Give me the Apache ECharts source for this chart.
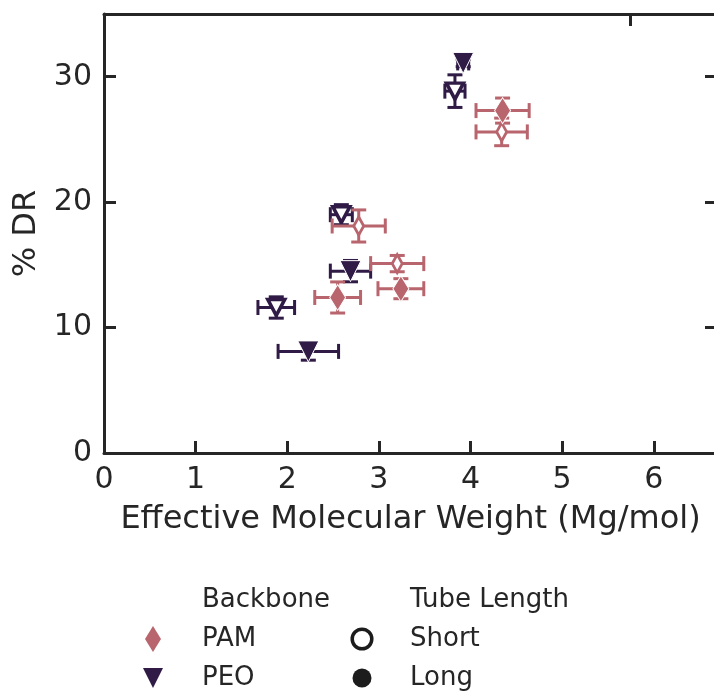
<!DOCTYPE html>
<html>
<head>
<meta charset="utf-8">
<style>
html,body{margin:0;padding:0;background:#fff;}
#chart{width:714px;height:692px;}
</style>
<script src="https://cdn.jsdelivr.net/npm/echarts@6/dist/echarts.min.js"></script>
</head>
<body>
<div id="chart"></div>
<script>
// ---- data ----
const PAM_SHORT_X    = [4.34, 2.78, 3.20];
const PAM_SHORT_Y    = [25.6, 18.1, 15.1];
const PAM_SHORT_XERR = [0.28, 0.29, 0.29];
const PAM_SHORT_YERR = [1.1, 1.28, 0.65];

const PAM_LONG_X    = [4.35, 2.55, 3.24];
const PAM_LONG_Y    = [27.3, 12.4, 13.1];
const PAM_LONG_XERR = [0.29, 0.25, 0.25];
const PAM_LONG_YERR = [1.0, 1.24, 0.8];

const PEO_SHORT_X    = [3.83, 2.59, 1.88];
const PEO_SHORT_Y    = [28.85, 19.0, 11.6];
const PEO_SHORT_XERR = [0.11, 0.12, 0.20];
const PEO_SHORT_YERR = [1.3, 0.8, 0.85];

const PEO_LONG_X    = [3.92, 2.69, 2.23];
const PEO_LONG_Y    = [31.1, 14.5, 8.1];
const PEO_LONG_XERR = [0.06, 0.22, 0.33];
const PEO_LONG_YERR = [0.3, 0.85, 0.7];

const X_TICKS = [0, 1, 2, 3, 4, 5, 6];
const Y_TICKS = [0, 10, 20, 30];
const TOP_TICKS = [5.74];
const BACKBONE_TITLE = 'Backbone';
const TUBE_TITLE = 'Tube Length';
const BACKBONE_NAMES = ['PAM', 'PEO'];
const TUBE_NAMES = ['Short', 'Long'];

// ---- style ----
const C_PAM = '#b8656d';
const C_PEO = '#2f1b45';
const C_TXT = '#262626';
const C_KEY = '#1c1c1c';
const FONT = 'DejaVu Sans';
const DIAMOND = 'path://M0,-13L8,0L0,13L-8,0Z';
const TRI_DOWN = 'path://M-10,-10L10,-10L0,10Z';

function pts(xs, ys) { return xs.map((x, i) => [x, ys[i]]); }
function errData(xs, ys, xe, ye) { return xs.map((x, i) => [x, ys[i], xe[i], ye[i]]); }

function errSeries(data, color, z) {
  return {
    type: 'custom',
    z: z,
    silent: true,
    data: data,
    renderItem: function (params, api) {
      const x = api.value(0), y = api.value(1), xe = api.value(2), ye = api.value(3);
      const l = api.coord([x - xe, y]);
      const r = api.coord([x + xe, y]);
      const t = api.coord([x, y + ye]);
      const b = api.coord([x, y - ye]);
      const cap = 7.5;
      const st = { stroke: color, lineWidth: 3 };
      return {
        type: 'group',
        children: [
          { type: 'line', shape: { x1: l[0], y1: l[1], x2: r[0], y2: r[1] }, style: st },
          { type: 'line', shape: { x1: l[0], y1: l[1] - cap, x2: l[0], y2: l[1] + cap }, style: st },
          { type: 'line', shape: { x1: r[0], y1: r[1] - cap, x2: r[0], y2: r[1] + cap }, style: st },
          { type: 'line', shape: { x1: t[0], y1: t[1], x2: b[0], y2: b[1] }, style: st },
          { type: 'line', shape: { x1: t[0] - cap, y1: t[1], x2: t[0] + cap, y2: t[1] }, style: st },
          { type: 'line', shape: { x1: b[0] - cap, y1: b[1], x2: b[0] + cap, y2: b[1] }, style: st }
        ]
      };
    }
  };
}

function txt(s, x, y) {
  return { type: 'text', x: x, y: y, silent: true,
    style: { text: s, fill: C_TXT, font: '26px "DejaVu Sans"', align: 'left', verticalAlign: 'middle' } };
}

const chart = echarts.init(document.getElementById('chart'), null, { renderer: 'canvas' });

const axisLineStyle = { color: C_TXT, width: 3 };
const tickStyle = { color: C_TXT, width: 3 };

const option = {
  animation: false,
  backgroundColor: '#fff',
  textStyle: { fontFamily: FONT },
  graphic: [
    txt(BACKBONE_TITLE, 202, 600),
    txt(TUBE_TITLE, 410, 600),
    { type: 'polygon', silent: true, shape: { points: [[153, 626], [161, 639], [153, 652], [145, 639]] },
      style: { fill: C_PAM } },
    { type: 'polygon', silent: true, shape: { points: [[143, 668], [163, 668], [153, 688]] },
      style: { fill: C_PEO } },
    txt(BACKBONE_NAMES[0], 202, 639),
    txt(BACKBONE_NAMES[1], 202, 678),
    { type: 'circle', silent: true, shape: { cx: 362, cy: 639, r: 9.8 },
      style: { fill: '#ffffff', stroke: C_KEY, lineWidth: 3.5 } },
    { type: 'circle', silent: true, shape: { cx: 362, cy: 678, r: 9.5 },
      style: { fill: C_KEY } },
    txt(TUBE_NAMES[0], 410, 639),
    txt(TUBE_NAMES[1], 410, 678)
  ],
  grid: { left: 104, top: 14, width: 613, height: 439, containLabel: false, outerBoundsMode: 'none' },
  xAxis: [
    {
      type: 'value', min: 0, max: 6.69, interval: 1, position: 'bottom',
      name: 'Effective Molecular Weight (Mg/mol)', nameLocation: 'middle', nameGap: 51,
      nameTextStyle: { fontFamily: FONT, fontSize: 32, color: C_TXT },
      axisLine: { show: true, lineStyle: axisLineStyle },
      axisTick: { show: true, inside: true, length: 12, lineStyle: tickStyle },
      axisLabel: { fontFamily: FONT, fontSize: 30, color: C_TXT, margin: 12, showMaxLabel: false,
        formatter: v => X_TICKS.indexOf(v) >= 0 ? String(v) : '' },
      splitLine: { show: false }
    },
    {
      type: 'value', min: 0, max: 6.69, interval: 1, position: 'top',
      axisLine: { show: true, onZero: false, lineStyle: axisLineStyle },
      axisTick: { show: true, inside: true, length: 12, lineStyle: tickStyle, customValues: TOP_TICKS },
      axisLabel: { show: false },
      splitLine: { show: false }
    }
  ],
  yAxis: [
    {
      type: 'value', min: 0, max: 35, interval: 10, position: 'left',
      name: '% DR', nameLocation: 'middle', nameGap: 53,
      nameTextStyle: { fontFamily: FONT, fontSize: 32, color: C_TXT },
      axisLine: { show: true, lineStyle: axisLineStyle },
      axisTick: { show: true, inside: true, length: 12, lineStyle: tickStyle },
      axisLabel: { fontFamily: FONT, fontSize: 30, color: C_TXT, margin: 12, showMaxLabel: false,
        formatter: v => Y_TICKS.indexOf(v) >= 0 ? String(v) : '' },
      splitLine: { show: false }
    },
    {
      type: 'value', min: 0, max: 35, interval: 10, position: 'right',
      axisLine: { show: true, onZero: false, lineStyle: axisLineStyle },
      axisTick: { show: true, inside: true, length: 12, lineStyle: tickStyle },
      axisLabel: { show: false },
      splitLine: { show: false }
    }
  ],
  series: [
    // error bars
    errSeries(errData(PEO_SHORT_X, PEO_SHORT_Y, PEO_SHORT_XERR, PEO_SHORT_YERR), C_PEO, 2),
    errSeries(errData(PEO_LONG_X, PEO_LONG_Y, PEO_LONG_XERR, PEO_LONG_YERR), C_PEO, 2),
    errSeries(errData(PAM_SHORT_X, PAM_SHORT_Y, PAM_SHORT_XERR, PAM_SHORT_YERR), C_PAM, 4),
    errSeries(errData(PAM_LONG_X, PAM_LONG_Y, PAM_LONG_XERR, PAM_LONG_YERR), C_PAM, 4),

    // markers
    { name: 'PEO Short', type: 'scatter', z: 3, silent: true, data: pts(PEO_SHORT_X, PEO_SHORT_Y),
      symbol: TRI_DOWN, symbolSize: [17, 16],
      itemStyle: { color: '#ffffff', borderColor: C_PEO, borderWidth: 3.5, opacity: 1 } },
    { name: 'PEO Long', type: 'scatter', z: 3, silent: true, data: pts(PEO_LONG_X, PEO_LONG_Y),
      symbol: TRI_DOWN, symbolSize: [21, 21],
      itemStyle: { color: C_PEO, borderColor: '#ffffff', borderWidth: 1, opacity: 1 } },
    { name: 'PAM Short', type: 'scatter', z: 5, silent: true, data: pts(PAM_SHORT_X, PAM_SHORT_Y),
      symbol: DIAMOND, symbolSize: [10, 18],
      itemStyle: { color: '#ffffff', borderColor: C_PAM, borderWidth: 3, opacity: 1 } },
    { name: 'PAM Long', type: 'scatter', z: 5, silent: true, data: pts(PAM_LONG_X, PAM_LONG_Y),
      symbol: DIAMOND, symbolSize: [16, 26],
      itemStyle: { color: C_PAM, borderColor: '#ffffff', borderWidth: 1, opacity: 1 } }
  ]
};

chart.setOption(option);
</script>
</body>
</html>
